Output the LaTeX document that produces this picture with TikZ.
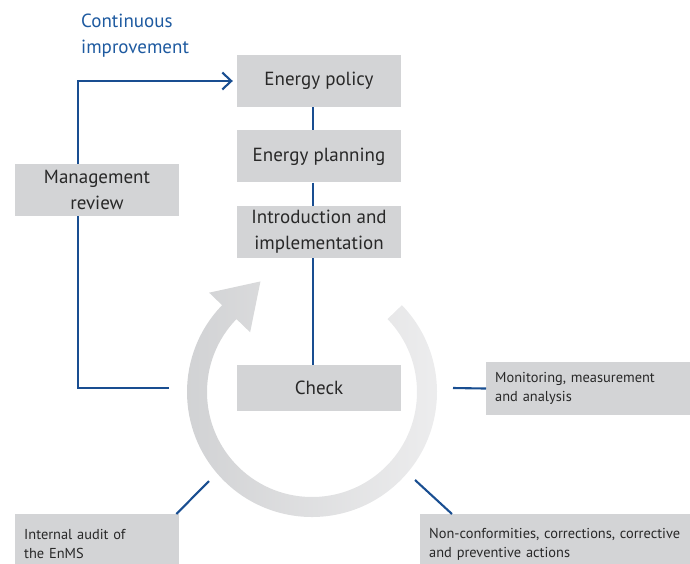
\documentclass[tikz,border=0pt]{standalone}
\usepackage{fontspec}
\setmainfont{PT Sans}
\usetikzlibrary{positioning, calc, arrows.meta}
\definecolor{linkblue}{RGB}{25,78,145}
\definecolor{labelblue}{RGB}{30,90,160}
\definecolor{boxgray}{RGB}{211,212,214}
\definecolor{textgray}{RGB}{40,40,40}
\definecolor{ringdark}{RGB}{208,209,211}
\definecolor{ringlight}{RGB}{238,238,239}
\tikzset{
  box_font/.style = {font=\fontsize{19}{26}\selectfont},
  note_font/.style = {font=\fontsize{14.4}{19.5}\selectfont},
  box_background/.style = {fill=boxgray, text=textgray}
}
\tikzset{
  main_box/.style = {box_font, box_background, align=center, minimum width=164, minimum height=52, inner sep=0},
  note_box/.style = {note_font, box_background, align=left, anchor=north west, inner xsep=9, inner ysep=10},
  link/.style = {draw=linkblue, line width=2.1},
  ring/.style = {left color=ringdark, right color=ringlight}
}
\begin{document}
\begin{tikzpicture}[x=1pt, y=-1pt]
    \useasboundingbox (0,0) rectangle (690,563);

    % Cycle ring
    \begin{scope}[shift={(312,392)}, y=1pt]
        \shade[ring] (44:125) arc[start angle=44, end angle=-224, radius=125]
            -- (136:143) -- (115:122) -- (136:86) -- (136:105)
            arc[start angle=-224, end angle=44, radius=105] -- cycle;
    \end{scope}

    % Main boxes
    \node[main_box] (policy) at (319,81) {Energy policy};
    \node[main_box, below=23pt of policy] (planning) {Energy planning};
    \node[main_box, below=23pt of planning] (intro) {Introduction and\\implementation};
    \node[main_box, minimum height=46] (check) at (319,388) {Check};
    \node[main_box] (review) at (97,190) {Management\\review};

    % Check notes
    \node[note_box, text width=200, minimum height=52] (monitor) at (486,362) {
        Monitoring, measurement\\and analysis};
    \node[note_box, text width=280, minimum height=60] (nonconf) at (420,514) {
        Non-conformities, corrections, corrective\\and preventive actions};
    \node[note_box, text width=146, minimum height=60] (audit) at (15,514) {
        Internal audit of\\the EnMS};

    % Loop label
    \node[box_font, text=labelblue, align=left, anchor=north west, inner sep=0] (loop_label) at (81,14) {
        Continuous\\improvement};

    % Links
    \draw[link] ($(policy.south)+(-6,0)$) -- ($(planning.north)+(-6,0)$);
    \draw[link] ($(planning.south)+(-6,0)$) -- ($(intro.north)+(-6,0)$);
    \draw[link] ($(intro.south)+(-6,0)$) -- ($(check.north)+(-6,0)$);

    \coordinate (loop_start) at (169,388);
    \draw[link] (loop_start) -| ($(review.south)+(-19,0)$);
    \draw[link, -{Straight Barb[length=9pt, width=17pt]}, shorten >=4pt] ($(review.north)+(-19,0)$) |- (policy.west);

    \coordinate (monitor_end) at (453,388);
    \draw[link] (monitor_end) -- (monitor.west);
    \coordinate (nonconf_end) at (415,480);
    \draw[link] (nonconf_end) -- ($(nonconf.north west)+(32,0)$);
    \coordinate (audit_end) at (209,481);
    \draw[link] (audit_end) -- ($(audit.north east)+(-3,0)$);
\end{tikzpicture}
\end{document}
